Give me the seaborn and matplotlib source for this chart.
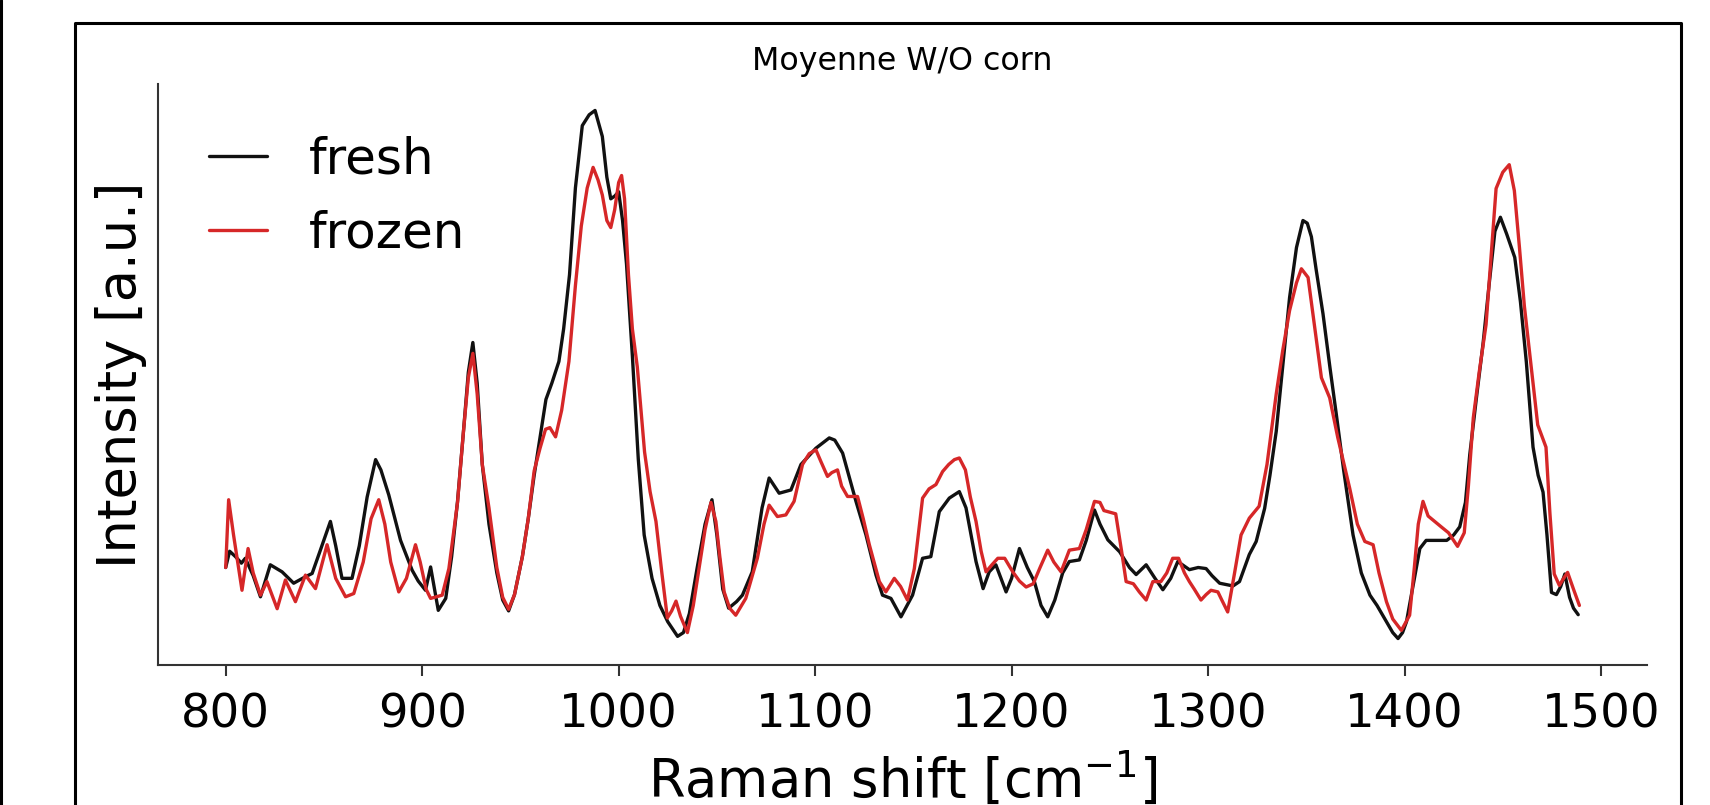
import matplotlib
matplotlib.use("Agg")
import matplotlib.pyplot as plt
import pandas as pd
import seaborn as sns
from matplotlib.lines import Line2D

# Raman shift (cm-1) and intensity (a.u.)
fresh_shift = [
    800, 802, 805, 808, 810, 814, 817.7, 822.7, 828.7, 834.6, 840.6, 844, 848, 853.3,
    856, 859.2, 864.3, 868, 872, 876.3, 879, 883, 889, 894.9, 898, 901.7, 904.3,
    908.2, 912, 915, 918, 921, 923.5, 925.8, 928, 930.6, 934, 938, 941, 944, 947,
    951, 954, 957, 960, 963, 966, 969.6, 972, 975, 978, 981.5, 985, 988, 991.7, 994,
    996, 998, 1000, 1002, 1004, 1007, 1010, 1013, 1017, 1021, 1025, 1030, 1033,
    1036, 1040, 1044, 1047.5, 1050, 1053, 1056, 1060, 1063, 1068, 1073, 1076.6,
    1081.7, 1087.7, 1092.8, 1100.4, 1107.2, 1110, 1114, 1120.8, 1125.9, 1131,
    1134.3, 1138.6, 1143.7, 1149.6, 1154.7, 1158.9, 1163.2, 1168.3, 1173.4, 1176.8,
    1181.9, 1185.5, 1188.6, 1192, 1197.2, 1200, 1204, 1208, 1211.6, 1215, 1218.4,
    1222, 1226, 1229.4, 1234.5, 1238, 1242.2, 1245, 1249, 1255, 1260, 1263.4,
    1268.5, 1273, 1277, 1281, 1284.6, 1290.5, 1295, 1299, 1302, 1305.9, 1312.7,
    1316, 1321, 1324.5, 1328.8, 1331.5, 1334.7, 1338, 1341.5, 1345, 1348.3, 1350.5,
    1352.6, 1355, 1358.5, 1362, 1365.3, 1369, 1373.8, 1378, 1382.4, 1386, 1390.8,
    1394, 1396.7, 1399, 1401, 1404, 1407.8, 1411, 1414.6, 1418, 1421.5, 1425,
    1428.1, 1431, 1433.2, 1436.5, 1440, 1443, 1446, 1448.8, 1452, 1456.1, 1459,
    1462, 1465.4, 1468, 1470.5, 1472.5, 1474.8, 1477.3, 1479.5, 1481.6, 1484, 1486,
    1488.4,
]
fresh_intensity = [
    18.0, 21.0, 20.0, 18.8, 19.7, 16.5, 12.6, 18.5, 17.2, 15.1, 16.3, 16.9, 21.0, 26.5,
    22.0, 16.0, 16.0, 22.0, 31.0, 37.9, 36.0, 31.4, 23.0, 17.5, 15.5, 13.8, 18.1,
    10.1, 12.3, 20.0, 30.2, 43.0, 54.0, 59.5, 52.0, 37.0, 26.0, 17.0, 12.0, 10.0, 13.0,
    20.0, 27.0, 35.0, 42.0, 49.0, 52.0, 56.0, 62.0, 72.0, 88.0, 99.5, 101.5, 102.3, 97.5, 90.0,
    86.0, 86.5, 87.3, 82.0, 74.0, 57.0, 38.0, 24.0, 16.0, 11.0, 8.0, 5.3, 6.0,
    9.5, 18.0, 26.0, 30.5, 24.0, 14.0, 10.5, 11.7, 12.9, 17.2, 29.0, 34.5,
    31.7, 32.3, 37.0, 40.0, 41.9, 41.5, 39.1, 30.2, 24.0, 16.6,
    12.9, 12.3, 8.9, 12.9, 19.7, 20.0, 28.3, 30.8, 32.0, 29.0,
    19.1, 14.1, 17.2, 18.5, 13.5, 16.0, 21.5, 18.0, 15.4, 11.0, 8.9,
    12.0, 17.0, 19.1, 19.4, 23.0, 28.6, 26.0, 23.1, 20.9, 18.0, 16.7,
    18.5, 16.0, 13.9, 16.0, 19.1, 17.6, 18.0, 17.8, 16.5, 15.1, 14.6,
    15.4, 20.4, 22.8, 28.9, 35.0, 43.1, 55.0, 67.8, 77.0, 82.0, 81.5,
    79.0, 73.0, 64.8, 55.0, 46.2, 36.0, 24.0, 17.0, 12.9, 11.0, 8.0,
    6.0, 4.9, 6.0, 8.0, 14.0, 21.5, 23.0, 23.0, 23.0, 23.0, 24.0,
    25.5, 30.0, 38.8, 49.0, 59.4, 70.0, 80.0, 82.6, 79.5, 75.2, 67.0,
    55.9, 40.2, 35.0, 31.9, 24.0, 13.4, 13.0, 14.5, 16.8, 12.5, 10.5,
    9.3,
]

frozen_shift = [
    800, 801.5, 804, 808.3, 811.4, 814, 817.7, 821, 826.2, 830.4, 835.5, 840.6, 845.7,
    851.6, 856, 861, 865.2, 870, 874, 877.9, 881, 884, 888.1, 892, 896.6, 899, 902,
    904.3, 910.2, 913.6, 918, 921, 923.5, 925.8, 928, 930.6, 934, 938, 941, 944, 947,
    951, 954, 957, 960, 962.8, 965, 967.9, 971, 974.7, 978, 981, 984, 987, 989.5,
    991.7, 994, 996, 998, 1000, 1001.5, 1003, 1005, 1007, 1009.5, 1013.2, 1016, 1019,
    1022, 1024.8, 1027, 1029.2, 1031.5, 1035, 1038, 1041, 1044, 1047, 1049.5,
    1051.5, 1053.7, 1056.5, 1059.6, 1064.7, 1070.6, 1074, 1076.6, 1080.8, 1085.1,
    1089.3, 1093.6, 1097, 1100.4, 1103, 1106.3, 1108.5, 1111.4, 1113.5, 1116.5,
    1121.6, 1124.5, 1127.6, 1132.7, 1136, 1140.3, 1143.5, 1147, 1150.5, 1154.7,
    1158, 1161.5, 1164.9, 1168, 1170.9, 1173.4, 1176.5, 1179, 1181.9, 1184.5, 1187,
    1190, 1193, 1196.5, 1200.6, 1204, 1207.4, 1211, 1214.5, 1218.4, 1221.5, 1225.2,
    1229.4, 1234.5, 1238, 1242.2, 1245, 1247, 1249, 1253, 1256, 1258.3, 1262, 1265,
    1268.5, 1271.9, 1276, 1279, 1282, 1285, 1288, 1290.5, 1293, 1296.4, 1299,
    1301.5, 1305, 1307, 1310, 1313.5, 1316.8, 1321, 1326, 1330, 1334.7, 1338,
    1341.5, 1345, 1347.5, 1350.9, 1354, 1357.7, 1361.9, 1366, 1372.1, 1376, 1379.8,
    1384, 1387, 1390.8, 1394, 1398.4, 1402.6, 1405, 1407, 1409.4, 1412, 1415.3,
    1419, 1422.4, 1427, 1430.4, 1432.5, 1435, 1438, 1441.5, 1444, 1446.6, 1450,
    1453.3, 1455.9, 1458.5, 1461, 1464.5, 1467.8, 1472, 1474, 1476.2, 1478.8, 1481,
    1483, 1486, 1489,
]
frozen_intensity = [
    18.0, 30.5, 24.0, 13.8, 21.5, 17.0, 12.9, 15.4, 10.4, 15.7, 11.7, 16.6, 14.1,
    22.2, 16.0, 12.6, 13.2, 19.0, 27.0, 30.5, 26.0, 19.0, 13.5, 16.0, 22.2, 19.0, 14.0,
    12.3, 12.9, 17.8, 30.0, 43.0, 53.0, 57.5, 50.0, 37.0, 29.0, 18.0, 12.5, 10.3, 13.0,
    20.0, 27.0, 35.8, 40.0, 43.5, 43.8, 42.1, 47.0, 56.0, 70.0, 81.0, 88.0, 91.8, 89.5,
    86.7, 82.0, 80.7, 84.0, 89.0, 90.3, 86.0, 72.0, 62.0, 55.0, 39.3, 32.0, 26.5,
    17.0, 8.7, 10.0, 11.8, 9.0, 6.0, 11.0, 18.0, 25.0, 30.0, 26.5,
    20.0, 13.5, 10.5, 9.2, 12.3, 19.7, 26.0, 29.5, 27.4, 27.7,
    30.2, 37.0, 39.0, 39.7, 37.5, 34.8, 35.5, 36.0, 33.0, 31.1,
    31.1, 27.0, 22.2, 15.4, 13.5, 16.0, 14.5, 12.0, 17.8, 30.8,
    32.5, 33.3, 35.7, 37.0, 37.9, 38.2, 36.0, 31.0, 26.5, 21.0, 17.2,
    18.5, 19.7, 19.7, 17.2, 15.5, 14.4, 15.0, 18.0, 21.2, 19.0, 17.2,
    21.2, 21.5, 25.0, 30.2, 30.0, 28.5, 28.3, 27.9, 21.0, 15.4, 15.0, 13.5,
    12.0, 15.4, 15.4, 17.0, 19.7, 19.7, 17.0, 15.4, 14.0, 12.0, 13.0,
    13.8, 13.5, 12.0, 9.8, 17.0, 24.0, 27.1, 29.3, 37.0, 50.0, 58.0,
    65.4, 70.5, 73.1, 71.5, 63.0, 53.0, 49.3, 42.0, 32.6, 26.0, 22.8,
    22.2, 17.0, 11.7, 8.5, 6.4, 9.2, 18.0, 26.0, 30.2, 27.5, 26.5,
    25.4, 24.4, 21.9, 24.4, 33.0, 45.6, 54.0, 62.8, 75.0, 87.9, 90.9,
    92.3, 87.5, 77.0, 66.2, 55.0, 44.3, 40.2, 28.0, 16.8, 14.7, 16.0,
    17.1, 14.0, 11.0,
]

series_names = ["fresh", "frozen"]
series_colors = {"fresh": "#111111", "frozen": "#d62728"}
x_ticks = [800, 900, 1000, 1100, 1200, 1300, 1400, 1500]

df = pd.concat([
    pd.DataFrame({"shift": fresh_shift, "intensity": fresh_intensity, "sample": "fresh"}),
    pd.DataFrame({"shift": frozen_shift, "intensity": frozen_intensity, "sample": "frozen"}),
])

sns.set_style("ticks")
plt.rcParams["font.family"] = ["DejaVu Sans"]
plt.rcParams["text.color"] = "black"
plt.rcParams["axes.labelcolor"] = "black"

fig = plt.figure(figsize=(17.1, 8.05), dpi=100)
ax = fig.add_axes([0.0924, 0.174, 0.8708, 0.7216])
sns.lineplot(data=df, x="shift", y="intensity", hue="sample", hue_order=series_names,
             palette=series_colors, linewidth=2.4, sort=False, estimator=None, ax=ax)

sns.despine(ax=ax)
for side in ["left", "bottom"]:
    ax.spines[side].set_color("#333333")
    ax.spines[side].set_linewidth(1.5)
ax.set_yticks([])
ax.set_xticks(x_ticks)
ax.tick_params(axis="x", labelsize=33.5, length=8, width=1.5, color="#333333",
               labelcolor="black", pad=12)

ax.set_title("Moyenne W/O corn", fontsize=22.8, pad=10, color="black")
ax.set_xlabel("Raman shift [cm$^{-1}$]", fontsize=38, labelpad=9)
ax.set_ylabel("Intensity [a.u.]", fontsize=38, labelpad=8)

leg = ax.legend(frameon=False, loc="upper left", fontsize=36, handlelength=1.15,
                handletextpad=0.85, labelspacing=0.52, borderaxespad=0.62)
for txt in leg.get_texts():
    txt.set_color("black")

# the frame around the screenshot
fig.add_artist(Line2D([0.0439, 0.0439, 0.983, 0.983], [0.0, 0.9714, 0.9714, 0.0],
                      transform=fig.transFigure, color="black", linewidth=2.2))
fig.add_artist(Line2D([0.0008, 0.0008], [0.0, 1.0], transform=fig.transFigure,
                      color="black", linewidth=2.2))

fig.savefig("out.png", dpi=100)
plt.close(fig)
